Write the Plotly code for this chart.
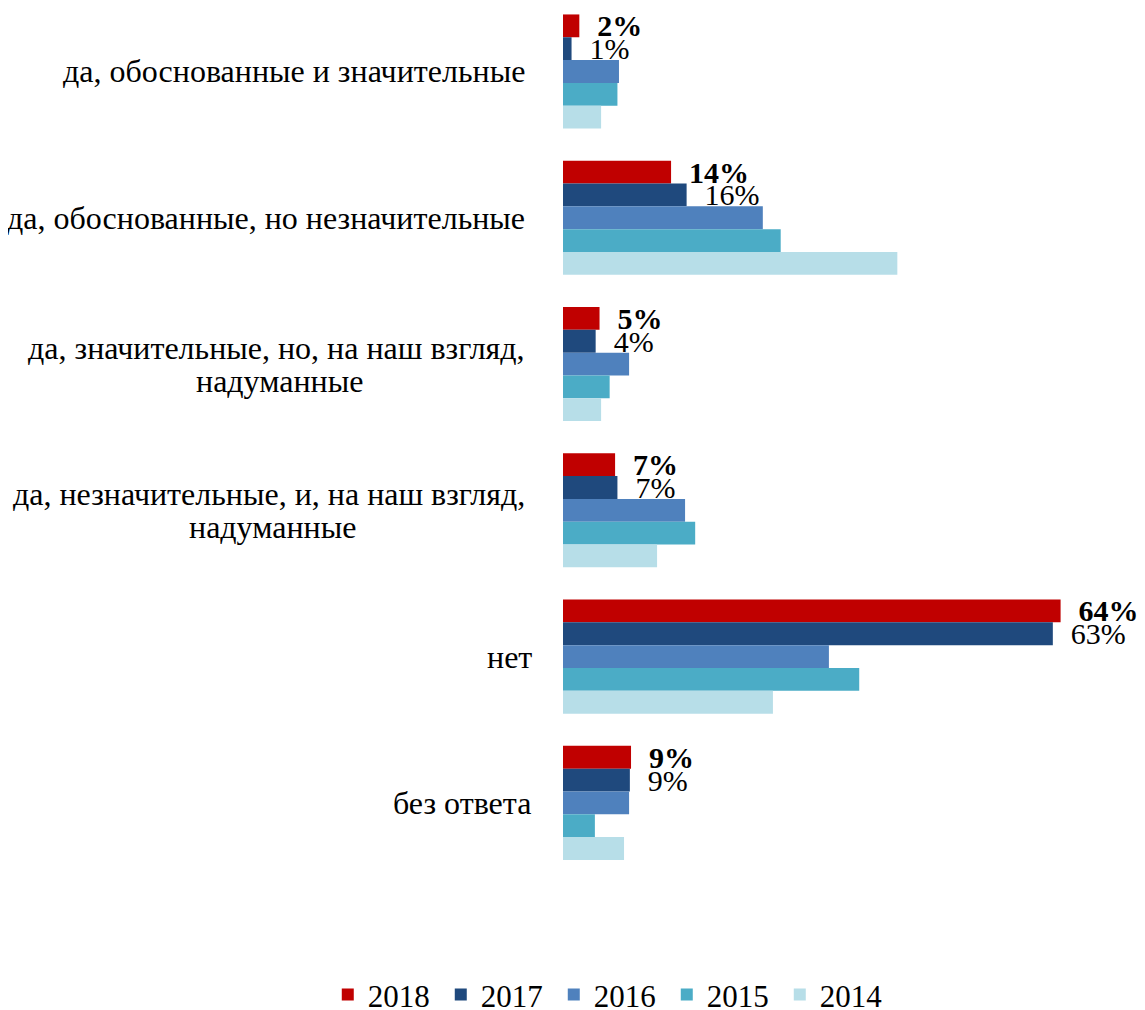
import plotly.graph_objects as go

categories = [
    "да, обоснованные и значительные",
    "да, обоснованные, но незначительные",
    "да, значительные, но, на наш взгляд,<br>надуманные",
    "да, незначительные, и, на наш взгляд,<br>надуманные",
    "нет",
    "без ответа",
]
years = ["2018", "2017", "2016", "2015", "2014"]
v2018 = [2.1, 13.9, 4.7, 6.7, 64.0, 8.75]
v2017 = [1.1, 15.9, 4.2, 7.0, 63.0, 8.6]
v2016 = [7.2, 25.7, 8.5, 15.7, 34.2, 8.5]
v2015 = [7.0, 28.0, 6.0, 17.0, 38.1, 4.1]
v2014 = [4.9, 43.0, 4.9, 12.1, 27.0, 7.85]
values = [v2018, v2017, v2016, v2015, v2014]
colors = ["#C00000", "#1F497D", "#4F81BD", "#4BACC6", "#B7DEE8"]

FONT = "Liberation Serif, Times New Roman, serif"
CAT_FS = 32
LBL_FS = 30
LEG_FS = 31

# layout styling for the category labels (px): right gap to bars, and the
# approximate rendered width of the first line of wrapped labels
label_gap = [36, 36, 36, 36, 29, 30]
first_line_width = [0, 0, 495, 510, 0, 0]
LINE_PITCH = 33

fig = go.Figure()
for yr, vals, col in zip(years, values, colors):
    if yr == "2018":
        kw = dict(texttemplate="  <b>%{x:.0f}%</b>", textposition="outside")
    elif yr == "2017":
        kw = dict(texttemplate="  %{x:.0f}%", textposition="outside")
    else:
        kw = dict(textposition="none")
    fig.add_trace(go.Bar(
        y=categories, x=vals, name=yr, orientation="h",
        marker=dict(color=col, line=dict(width=0)),
        textfont=dict(family=FONT, size=LBL_FS, color="black"),
        constraintext="none", cliponaxis=False,
        hoverinfo="x+name",
        **kw,
    ))

# category labels: centred multi-line blocks, right edge next to the bars
for cat, gap, w1 in zip(categories, label_gap, first_line_width):
    lines = cat.split("<br>")
    n = len(lines)
    for k, line in enumerate(lines):
        if k == 0:
            xa, xs = "right", -gap
        else:
            xa, xs = "center", -gap - w1 / 2
        fig.add_annotation(
            x=0, y=cat, xref="x", yref="y", text=line,
            xanchor=xa, yanchor="middle", xshift=xs,
            yshift=(n - 1) * LINE_PITCH / 2 - k * LINE_PITCH,
            showarrow=False,
            font=dict(family=FONT, size=CAT_FS, color="black"),
        )

PX_PER_PCT = 7.775
PLOT_W = 1145 - 555

fig.update_layout(
    width=1145, height=1010,
    margin=dict(l=555, r=0, t=0, b=142),
    barmode="group", bargap=0.22, bargroupgap=0,
    plot_bgcolor="white", paper_bgcolor="white",
    font=dict(family=FONT, size=CAT_FS, color="black"),
    showlegend=True,
    legend=dict(
        orientation="h", traceorder="normal",
        xref="container", yref="container",
        x=0.526, xanchor="center", y=0.023, yanchor="middle",
        font=dict(family=FONT, size=LEG_FS, color="black"),
        entrywidth=68, entrywidthmode="pixels",
    ),
    xaxis=dict(range=[0, PLOT_W / PX_PER_PCT], visible=False,
               showgrid=False, zeroline=False),
    yaxis=dict(range=[5.5, -0.434], showticklabels=False, showgrid=False,
               zeroline=False, showline=False, ticks=""),
)

fig.write_html("out.html")
